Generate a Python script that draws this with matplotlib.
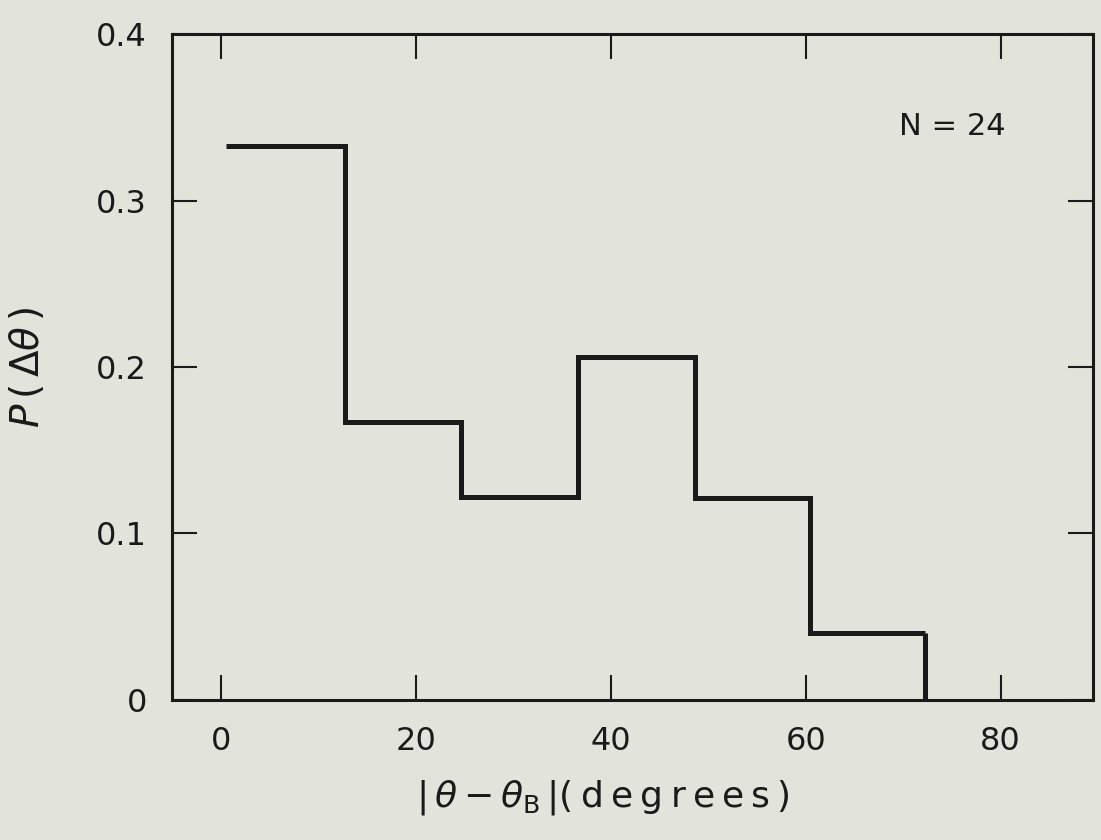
import matplotlib.pyplot as plt

# histogram of |theta - theta_B|
bin_edges = [0.5, 12.7, 24.6, 36.6, 48.6, 60.4, 72.2]
prob = [0.333, 0.167, 0.122, 0.206, 0.121, 0.040]
x_ticks = [0, 20, 40, 60, 80]
y_ticks = [0, 0.1, 0.2, 0.3, 0.4]
y_tick_labels = ["0", "0.1", "0.2", "0.3", "0.4"]
n_label = "N = 24"

paper = "#e2e3db"
ink = "#1a1a1a"

plt.rcParams['mathtext.fontset'] = 'dejavusans'

fig = plt.figure(figsize=(11.01, 8.4), dpi=100, facecolor=paper)
ax = fig.add_axes([0.156, 0.167, 0.837, 0.792], facecolor=paper)

ax.stairs(prob, bin_edges, baseline=None, color=ink, linewidth=3.6)
ax.vlines(bin_edges[-1], 0, prob[-1], color=ink, linewidth=3.6)

ax.set_xlim(-5.1, 89.5)
ax.set_ylim(0, 0.4)
ax.set_xticks(x_ticks)
ax.set_yticks(y_ticks)
ax.set_yticklabels(y_tick_labels)

for side in ax.spines.values():
    side.set_linewidth(2.2)
    side.set_color(ink)

ax.tick_params(axis='both', which='major', direction='in', length=18, width=1.5,
               color=ink, labelsize=23, labelcolor=ink,
               top=True, right=True)
ax.tick_params(axis='x', pad=19)
ax.tick_params(axis='y', pad=18)

# wide letter spacing like the original lettering
thin = "\u2009"
xlab = r"$|\,\theta - \theta_{\mathrm{B}}\,|$" + thin.join("(degrees)")
ax.set_xlabel(xlab, fontsize=26, color=ink)
ax.xaxis.set_label_coords(0.468, -0.117)
ax.set_ylabel(r"$P\,(\,\Delta\theta\,)$", fontsize=28, color=ink)
ax.yaxis.set_label_coords(-0.135, 0.5)

ax.text(0.847, 0.862, n_label, transform=ax.transAxes, ha='center', va='center',
        fontsize=22, color=ink)

fig.savefig("out.png", dpi=100, facecolor=paper)
